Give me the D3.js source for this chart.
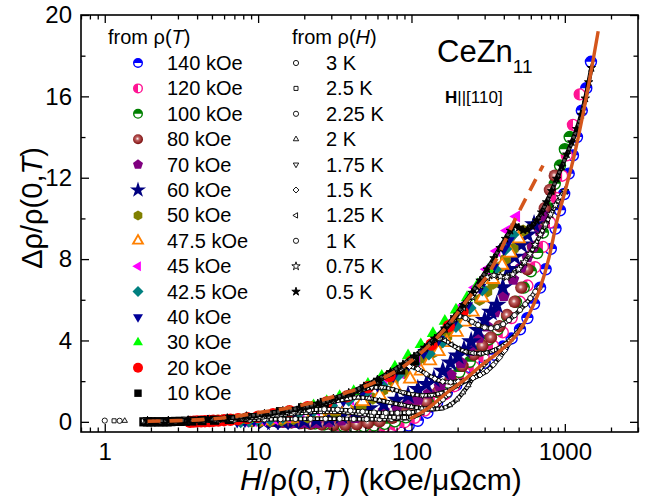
<!DOCTYPE html>
<html>
<head>
<meta charset="utf-8">
<script src="https://cdn.jsdelivr.net/npm/d3@7"></script>
<style>
body { margin: 0; background: #fff; }
text { font-family: "Liberation Sans", Arial, sans-serif; fill: #000; }
</style>
</head>
<body>
<svg id="chart" width="662" height="502"></svg>
<script>
// ---- data: [H/rho0, drho/rho0] ----
var fieldLabels = ["140 kOe", "120 kOe", "100 kOe", "80 kOe", "70 kOe", "60 kOe", "50 kOe",
                   "47.5 kOe", "45 kOe", "42.5 kOe", "40 kOe", "30 kOe", "20 kOe", "10 kOe"];
var tempLabels = ["3 K", "2.5 K", "2.25 K", "2 K", "1.75 K", "1.5 K", "1.25 K", "1 K", "0.75 K", "0.5 K"];

var xTicks = [1, 10, 100, 1000];
var yTicks = [0, 4, 8, 12, 16, 20];
var yMinor = [2, 6, 10, 14, 18];

var rT140 = [[25.5,0],[29,-0.06],[33,-0.13],[37.5,-0.2],[43,-0.27],[49,-0.33],[56,-0.37],[64,-0.38],[73,-0.36],[84,-0.3],[96,-0.18],[110,0.05],[127,0.45],[147,0.95],[170,1.42],[196,1.8],[226,2.2],[260,2.55],[300,2.9],[345,3.3],[395,3.7],[450,4.1],[510,4.55],[570,5.1],[630,5.8],[690,6.6],[750,7.5],[810,8.5],[870,9.5],[930,10.4],[990,11.2],[1060,12.2],[1130,13.1],[1200,14.0],[1290,15.3],[1380,16.4],[1480,17.7]];
var rT120 = [[22,0],[25,-0.05],[28.5,-0.1],[32.5,-0.16],[37,-0.22],[43,-0.27],[50,-0.29],[58,-0.28],[67,-0.24],[78,-0.15],[90,-0.02],[105,0.2],[122,0.55],[142,0.95],[165,1.35],[190,1.75],[220,2.2],[255,2.7],[295,3.2],[340,3.75],[394,4.4],[450,5.1],[510,5.9],[570,6.7],[640,7.6],[720,8.6],[800,9.8],[880,11.0],[960,12.1],[1030,13.1],[1130,14.6],[1250,16.1]];
var rT100 = [[18,0],[20.5,-0.04],[23.5,-0.08],[27,-0.13],[31,-0.18],[36,-0.21],[42,-0.23],[49,-0.22],[57,-0.18],[67,-0.1],[78,0.02],[92,0.22],[108,0.5],[128,0.95],[150,1.45],[175,1.9],[205,2.45],[240,2.95],[280,3.5],[320,4.05],[365,4.55],[420,5.2],[480,5.9],[540,6.6],[600,7.4],[660,8.3],[720,9.3],[790,10.5],[860,11.7],[930,12.6],[1000,13.4],[1075,14.0]];
var rT80 = [[14.5,0],[16.5,-0.03],[19,-0.06],[22,-0.1],[26,-0.13],[31,-0.15],[37,-0.15],[44,-0.12],[52,-0.06],[62,0.02],[75,0.2],[90,0.42],[105,0.65],[125,1.0],[150,1.5],[180,2.1],[215,2.75],[255,3.3],[290,3.75],[330,4.15],[375,4.7],[420,5.25],[470,5.9],[520,6.6],[570,7.5],[620,8.6],[680,9.7],[740,10.5],[800,11.4],[860,12.1]];
var rT70 = [[12.7,0],[14.5,-0.02],[17,-0.04],[20,-0.05],[24,-0.04],[29,0],[35,0.08],[43,0.2],[53,0.35],[66,0.55],[80,0.75],[95,0.92],[110,1.1],[130,1.4],[153,1.75],[180,2.3],[210,2.9],[240,3.5],[275,4.15],[310,4.7],[350,5.4],[400,6.2],[460,7.0],[520,7.6],[570,8.1],[620,8.6],[685,9.4],[745,10.1]];
var rT60 = [[10.9,0],[12.5,0],[14.5,0],[17,0.02],[20,0.05],[24,0.1],[29,0.18],[35,0.3],[43,0.45],[53,0.65],[66,0.85],[80,1.08],[95,1.3],[110,1.6],[125,1.85],[140,2.1],[160,2.5],[180,2.9],[200,3.25],[220,3.55],[245,3.95],[272,4.5],[300,5.0],[330,5.4],[360,5.75],[394,6.6],[430,7.5],[470,8.1],[520,8.7],[570,9.2],[630,9.7]];
var rT50 = [[9.1,0.01],[10.3,0.02],[12,0.04],[14.2,0.08],[17,0.14],[21,0.22],[26,0.32],[32,0.45],[39,0.6],[47,0.8],[56,1.15],[65,1.55],[76,2.0],[90,2.4],[108,2.85],[123,3.1],[138,3.4],[153,3.85],[170,4.2],[188,4.6],[207,4.9],[240,5.45],[278,6.0],[310,6.4],[340,6.8],[376,7.6],[410,8.0],[460,8.5],[535,9.4]];
var rT475 = [[8.6,0.02],[9.8,0.04],[11.3,0.07],[13.5,0.12],[16.5,0.18],[20,0.28],[25,0.4],[31,0.58],[38,0.78],[48,1.0],[62,1.3],[78,1.7],[98,2.1],[115,2.5],[132,3.0],[150,3.45],[170,3.9],[197,4.4],[222,4.9],[250,5.4],[290,6.1],[340,7.0],[390,7.7],[440,8.3],[500,9.0]];
var rT45 = [[8.2,0.02],[9.3,0.04],[10.7,0.08],[12.8,0.14],[15.5,0.24],[19,0.38],[24,0.56],[31,0.82],[40,1.1],[52,1.45],[66,1.85],[85,2.4],[108,3.0],[125,3.6],[150,4.2],[180,4.9],[215,5.7],[260,6.6],[310,7.5],[360,8.4],[420,9.4],[484,10.1]];
var rT425 = [[7.7,0.02],[8.7,0.04],[10,0.08],[12,0.14],[14.5,0.23],[18,0.36],[23,0.55],[30,0.8],[39,1.08],[50,1.4],[64,1.8],[82,2.3],[104,2.85],[130,3.35],[160,3.95],[195,4.7],[240,5.6],[290,6.5],[350,7.5],[410,8.5],[457,9.2]];
var rT40 = [[7.3,0.02],[8.2,0.04],[9.4,0.08],[11,0.14],[13.5,0.24],[17,0.38],[22,0.56],[28,0.78],[36,1.05],[47,1.38],[60,1.78],[76,2.25],[96,2.8],[120,3.4],[150,4.05],[185,4.8],[230,5.7],[280,6.6],[340,7.6],[400,8.5],[430,8.9]];
var rT30 = [[5.4,0.02],[5.8,0.03],[6.3,0.04],[6.9,0.06],[7.6,0.08],[8.5,0.12],[9.6,0.17],[11,0.24],[13,0.33],[15.5,0.46],[19,0.62],[23,0.8],[28,1.0],[34,1.25],[42,1.5],[52,1.85],[64,2.25],[78,2.7],[95,3.25],[115,3.8],[138,4.35],[165,4.95],[195,5.5],[230,6.1],[270,6.75],[320,7.5]];
var rT20 = [[3.6,0],[3.8,0.01],[4.0,0.02],[4.25,0.02],[4.5,0.03],[4.8,0.04],[5.1,0.05],[5.5,0.06],[6.0,0.08],[6.6,0.1],[7.4,0.13],[8.5,0.18],[10,0.25],[12.5,0.37],[16,0.52],[21,0.72],[28,0.95],[38,1.25],[52,1.7],[72,2.25],[100,2.95],[135,3.8],[175,4.7],[215,5.4]];
var rT10 = [[1.8,0],[1.9,0],[2.0,0],[2.1,0],[2.25,0],[2.4,0],[2.55,0],[2.7,0.01],[2.9,0.02],[3.1,0.02],[3.35,0.03],[3.7,0.04],[4.3,0.06],[5.2,0.08],[6.5,0.12],[8.5,0.2],[11,0.3],[14,0.5],[19.5,0.69],[27,0.95],[40,1.3],[60,1.9],[85,2.55],[105,3.0]];

var rH3 = [[1.0,0.06],[1.8,0.05],[2.3,0.05],[2.9,0.05],[3.6,0.06],[4.5,0.07],[5.6,0.08],[7,0.1],[8.8,0.11],[11,0.12],[14,0.13],[17.5,0.14],[22,0.15],[27.5,0.15],[34,0.15],[42,0.14],[51,0.13],[62,0.13],[74,0.14],[86,0.16],[97,0.18]];
var rH25 = [[1.15,0.05],[1.85,0.05],[2.4,0.05],[3.1,0.06],[4,0.07],[5.2,0.09],[6.7,0.13],[8.5,0.18],[10.7,0.24],[13.3,0.32],[16.5,0.4],[20.5,0.46],[25.5,0.5],[31.5,0.5],[38.5,0.47],[46,0.4],[55,0.32],[65,0.26],[77,0.22],[90,0.21],[103,0.27],[117,0.45]];
var rH225 = [[1.25,0.05],[1.9,0.05],[2.5,0.06],[3.3,0.08],[4.4,0.11],[5.9,0.16],[7.8,0.23],[10.2,0.3],[13.3,0.4],[17,0.5],[21.5,0.58],[27,0.62],[33,0.6],[40,0.55],[48,0.5],[57,0.46],[68,0.44],[81,0.44],[96,0.46],[112,0.52],[128,0.64],[145,0.86],[160,1.1],[175,1.35]];
var rH2 = [[1.35,0.05],[1.95,0.05],[2.6,0.06],[3.5,0.08],[4.7,0.12],[6.3,0.18],[8.4,0.27],[11,0.38],[14.5,0.5],[19,0.64],[24.5,0.82],[31,1.0],[38,1.12],[45,1.2],[53,1.15],[62,1.05],[73,0.94],[86,0.84],[100,0.74],[117,0.66],[136,0.62],[157,0.66],[178,0.82],[198,1.1],[217,1.45],[235,1.8],[250,2.15]];
var rH175 = [[1.9,0.05],[2.6,0.06],[3.5,0.08],[4.7,0.12],[6.3,0.18],[8.4,0.27],[11,0.38],[14.5,0.52],[19,0.66],[24.5,0.86],[31,1.1],[38,1.32],[46,1.52],[55,1.68],[64,1.7],[75,1.6],[88,1.45],[102,1.35],[118,1.3],[136,1.32],[156,1.42],[178,1.58],[202,1.8],[228,2.05],[256,2.35],[285,2.65],[310,2.95]];
var rH15 = [[1.9,0.05],[2.6,0.06],[3.5,0.08],[4.7,0.12],[6.3,0.18],[8.4,0.27],[11,0.38],[14.5,0.52],[19,0.66],[24.5,0.86],[31,1.1],[39,1.38],[49,1.68],[60,2.0],[72,2.32],[85,2.6],[97,2.72],[110,2.6],[125,2.35],[142,2.12],[160,1.98],[180,1.95],[202,1.98],[226,2.05],[252,2.15],[280,2.3],[310,2.5],[342,2.8],[375,3.15],[405,3.5],[432,3.85]];
var rH125 = [[1.9,0.05],[2.6,0.06],[3.5,0.08],[4.7,0.12],[6.3,0.18],[8.4,0.27],[11,0.38],[14.5,0.52],[19,0.66],[24.5,0.86],[31,1.1],[39,1.38],[49,1.7],[60,2.02],[73,2.38],[88,2.75],[104,3.15],[120,3.55],[136,3.9],[150,4.1],[165,4.0],[182,3.8],[202,3.6],[225,3.45],[250,3.38],[278,3.36],[308,3.4],[340,3.5],[375,3.65],[412,3.85],[450,4.1],[490,4.4],[530,4.75]];
var rH1 = [[1.9,0.05],[2.6,0.06],[3.5,0.08],[4.7,0.12],[6.3,0.18],[8.4,0.27],[11,0.38],[14.5,0.52],[19,0.66],[24.5,0.86],[31,1.1],[39,1.38],[49,1.7],[60,2.02],[73,2.38],[88,2.75],[104,3.15],[122,3.6],[142,4.05],[163,4.5],[185,4.95],[205,5.2],[225,5.1],[248,4.92],[272,4.76],[300,4.64],[330,4.6],[362,4.66],[396,4.8],[432,5.0],[470,5.24],[510,5.5],[552,5.78],[596,6.08],[642,6.4],[685,6.6]];
var rH075 = [[1.9,0.05],[2.6,0.06],[3.5,0.08],[4.7,0.12],[6.3,0.18],[8.4,0.27],[11,0.38],[14.5,0.52],[19,0.68],[24.5,0.88],[31,1.12],[39,1.4],[49,1.72],[60,2.05],[73,2.42],[88,2.8],[104,3.2],[122,3.62],[142,4.08],[165,4.55],[190,5.08],[218,5.62],[248,6.15],[280,6.7],[312,7.1],[345,7.2],[380,7.15],[418,7.12],[458,7.25],[500,7.5],[545,7.85],[592,8.25],[640,8.7],[692,9.2],[748,9.7],[808,10.2],[870,10.65],[935,11.05],[1000,11.35]];
var rH05 = [[1.9,0.05],[2.6,0.06],[3.5,0.08],[4.7,0.12],[6.3,0.18],[8.4,0.28],[11,0.4],[14.5,0.54],[19,0.7],[24.5,0.9],[31,1.15],[39,1.43],[49,1.75],[60,2.08],[73,2.45],[88,2.83],[104,3.22],[122,3.65],[142,4.1],[165,4.6],[190,5.15],[218,5.75],[248,6.35],[280,6.95],[312,7.5],[345,8.05],[378,8.55],[410,9.0],[442,9.4],[472,9.65],[502,9.55],[535,9.42],[570,9.45],[610,9.62],[655,9.9],[705,10.3],[760,10.8],[820,11.35],[885,11.95],[955,12.55],[1030,13.15],[1110,13.75],[1195,14.4],[1280,15.1],[1360,15.9],[1430,16.7],[1490,17.4]];

var fitSolid = [[98,0.15],[130,0.7],[170,1.43],[220,2.05],[278,2.7],[380,3.5],[488,4.3],[585,5.3],[685,6.5],[790,8.1],[890,9.9],[1000,11.3],[1160,13.2],[1400,16.2],[1650,19.2]];
var fitDashed = [[1.9,0.03],[3,0.06],[4.5,0.12],[7.6,0.3],[9.8,0.44],[16,0.69],[34,1.33],[62,2.06],[102,3.05],[170,4.67],[251,6.34],[300,7.0],[500,10.3],[720,12.6]];

var seriesT = [rT140, rT120, rT100, rT80, rT70, rT60, rT50, rT475, rT45, rT425, rT40, rT30, rT20, rT10];
var seriesH = [rH3, rH25, rH225, rH2, rH175, rH15, rH125, rH1, rH075, rH05];

// ---- styles ----
var stylesT = [
  {shape: "half", half: "top", color: "#0000ff"},
  {shape: "half", half: "left", color: "#ff1493"},
  {shape: "half", half: "top", color: "#008000"},
  {shape: "ball", color: "#800000"},
  {shape: "poly", n: 5, rot: 0, fill: "#800080", k: 1.05},
  {shape: "star", fill: "#000080"},
  {shape: "poly", n: 6, rot: 0, fill: "#808000", k: 1.0},
  {shape: "poly", n: 3, rot: 0, fill: "#fff", stroke: "#ff8000", k: 1.15},
  {shape: "poly", n: 3, rot: -Math.PI / 2, fill: "#ff00ff", k: 1.15},
  {shape: "poly", n: 4, rot: 0, fill: "#008080", k: 1.1},
  {shape: "poly", n: 3, rot: Math.PI, fill: "#000099", k: 1.15},
  {shape: "poly", n: 3, rot: 0, fill: "#00ff00", k: 1.15},
  {shape: "circle", fill: "#ff0000"},
  {shape: "poly", n: 4, rot: Math.PI / 4, fill: "#000", k: 1.05}
];
var stylesH = [
  {shape: "circle", fill: "#fff", stroke: "#000"},
  {shape: "poly", n: 4, rot: Math.PI / 4, fill: "#fff", stroke: "#000", k: 1.1},
  {shape: "circle", fill: "#fff", stroke: "#000"},
  {shape: "poly", n: 3, rot: 0, fill: "#fff", stroke: "#000", k: 1.2},
  {shape: "poly", n: 3, rot: Math.PI, fill: "#fff", stroke: "#000", k: 1.2},
  {shape: "poly", n: 4, rot: 0, fill: "#fff", stroke: "#000", k: 1.15},
  {shape: "poly", n: 3, rot: -Math.PI / 2, fill: "#fff", stroke: "#000", k: 1.2},
  {shape: "circle", fill: "#fff", stroke: "#000"},
  {shape: "star", fill: "#fff", stroke: "#000"},
  {shape: "star", fill: "#000", stroke: "#000"}
];
var fitColor = "#d4561c";

// ---- layout ----
var svg = d3.select("#chart");
var margin = {left: 81, top: 15, right: 638, bottom: 432};

var x = d3.scaleLog().domain([0.7, 3000]).range([margin.left, margin.right]);
var y = d3.scaleLinear().domain([-0.5, 20]).range([margin.bottom, margin.top]);

var defs = svg.append("defs");
defs.append("clipPath").attr("id", "clip").append("rect")
  .attr("x", margin.left).attr("y", margin.top)
  .attr("width", margin.right - margin.left).attr("height", margin.bottom - margin.top);
var grad = defs.append("radialGradient").attr("id", "ball").attr("cx", "45%").attr("cy", "45%").attr("r", "60%");
grad.append("stop").attr("offset", "0%").attr("stop-color", "#ffffff");
grad.append("stop").attr("offset", "30%").attr("stop-color", "#c06060");
grad.append("stop").attr("offset", "100%").attr("stop-color", "#700000");

function polyPath(n, r, rot) {
  var pts = d3.range(n).map(function(i) {
    var a = rot + 2 * Math.PI * i / n;
    return [r * Math.sin(a), -r * Math.cos(a)];
  });
  return "M" + pts.join("L") + "Z";
}

function halfPath(side, r) {
  if (side == "left") return "M0," + (-r) + "A" + r + "," + r + " 0 0 0 0," + r + "Z";
  return "M" + (-r) + ",0A" + r + "," + r + " 0 0 1 " + r + ",0Z";
}

function drawMarker(g, st, r, sw) {
  if (st.shape == "half") {
    g.append("circle").attr("r", r - 0.7).attr("fill", "#fff")
      .attr("stroke", st.color).attr("stroke-width", 1.4);
    g.append("path").attr("d", halfPath(st.half, r - 0.7)).attr("fill", st.color);
  } else if (st.shape == "ball") {
    g.append("circle").attr("r", r).attr("fill", "url(#ball)");
  } else if (st.shape == "circle") {
    g.append("circle").attr("r", r).attr("fill", st.fill)
      .attr("stroke", st.stroke || "none").attr("stroke-width", sw);
  } else if (st.shape == "star") {
    g.append("path").attr("d", d3.symbol(d3.symbolStar, r * r * 3.2)())
      .attr("fill", st.fill).attr("stroke", st.stroke || "none").attr("stroke-width", sw);
  } else {
    g.append("path").attr("d", polyPath(st.n, r * st.k, st.rot))
      .attr("fill", st.fill).attr("stroke", st.stroke || "none")
      .attr("stroke-width", st.stroke ? (st.fill == "#fff" && st.stroke != "#000" ? 1.8 : sw) : 0);
  }
}

var plot = svg.append("g").attr("clip-path", "url(#clip)");

// rho(T) series
seriesT.forEach(function(data, i) {
  plot.append("g").selectAll("g").data(data).join("g")
    .attr("transform", function(d) { return "translate(" + x(d[0]) + "," + y(d[1]) + ")"; })
    .each(function() { drawMarker(d3.select(this), stylesT[i], 6.2, 1); });
});

// rho(H) series: dense chains of small open symbols
var chainLine = d3.line().x(function(d) { return x(d[0]); }).y(function(d) { return y(d[1]); })
  .curve(d3.curveMonotoneX);
seriesH.forEach(function(data, i) {
  var g = plot.append("g");
  var rest = data[0][0] < 1.5 ? data.slice(1) : data;
  g.append("path").attr("d", chainLine(rest)).attr("fill", "none")
    .attr("stroke", "#000").attr("stroke-width", 4.4);
  g.append("path").attr("d", chainLine(rest)).attr("fill", "none")
    .attr("stroke", i == 9 ? "#555" : "#fff").attr("stroke-width", 2.6).attr("stroke-dasharray", "2.6,1.6");
  g.selectAll("g").data(data).join("g")
    .attr("transform", function(d) { return "translate(" + x(d[0]) + "," + y(d[1]) + ")"; })
    .each(function() { drawMarker(d3.select(this), stylesH[i], 2.6, 0.9); });
});

// fit lines
plot.append("path").attr("d", chainLine(fitDashed)).attr("fill", "none")
  .attr("stroke", fitColor).attr("stroke-width", 3.6).attr("stroke-dasharray", "13,9");
plot.append("path").attr("d", chainLine(fitSolid)).attr("fill", "none")
  .attr("stroke", fitColor).attr("stroke-width", 3.4);

// ---- axes ----
var minorX = x.ticks().filter(function(d) { return xTicks.indexOf(d) < 0; });

function styleAxis(g) {
  g.select(".domain").remove();
  g.selectAll(".tick line").attr("stroke", "#000").attr("stroke-width", 1.3);
  g.selectAll(".tick text").attr("font-size", 24).attr("font-family", "Liberation Sans, Arial, sans-serif");
}

svg.append("g").attr("transform", "translate(0," + margin.bottom + ")")
  .call(d3.axisBottom(x).tickValues(xTicks).tickFormat(d3.format("d")).tickSizeInner(-8).tickSizeOuter(0).tickPadding(11))
  .call(styleAxis);
svg.append("g").attr("transform", "translate(0," + margin.bottom + ")")
  .call(d3.axisBottom(x).tickValues(minorX).tickFormat("").tickSizeInner(-4.5).tickSizeOuter(0))
  .call(styleAxis);
svg.append("g").attr("transform", "translate(0," + margin.top + ")")
  .call(d3.axisTop(x).tickValues(xTicks).tickFormat("").tickSizeInner(-8).tickSizeOuter(0))
  .call(styleAxis);
svg.append("g").attr("transform", "translate(0," + margin.top + ")")
  .call(d3.axisTop(x).tickValues(minorX).tickFormat("").tickSizeInner(-4.5).tickSizeOuter(0))
  .call(styleAxis);

svg.append("g").attr("transform", "translate(" + margin.left + ",0)")
  .call(d3.axisLeft(y).tickValues(yTicks).tickSizeInner(-8).tickSizeOuter(0).tickPadding(9))
  .call(styleAxis);
svg.append("g").attr("transform", "translate(" + margin.left + ",0)")
  .call(d3.axisLeft(y).tickValues(yMinor).tickFormat("").tickSizeInner(-4.5).tickSizeOuter(0))
  .call(styleAxis);
svg.append("g").attr("transform", "translate(" + margin.right + ",0)")
  .call(d3.axisRight(y).tickValues(yTicks).tickFormat("").tickSizeInner(-8).tickSizeOuter(0))
  .call(styleAxis);
svg.append("g").attr("transform", "translate(" + margin.right + ",0)")
  .call(d3.axisRight(y).tickValues(yMinor).tickFormat("").tickSizeInner(-4.5).tickSizeOuter(0))
  .call(styleAxis);

svg.append("rect").attr("x", margin.left).attr("y", margin.top)
  .attr("width", margin.right - margin.left).attr("height", margin.bottom - margin.top)
  .attr("fill", "none").attr("stroke", "#000").attr("stroke-width", 1.6);

// axis titles
var xt = svg.append("text").attr("x", 240).attr("y", 490).attr("font-size", 30);
xt.append("tspan").attr("font-style", "italic").text("H");
xt.append("tspan").text("/ρ(0,");
xt.append("tspan").attr("font-style", "italic").text("T");
xt.append("tspan").text(") (kOe/μΩcm)");

var yt = svg.append("text").attr("transform", "translate(42,208) rotate(-90)")
  .attr("text-anchor", "middle").attr("font-size", 29);
yt.append("tspan").text("Δρ/ρ(0,");
yt.append("tspan").attr("font-style", "italic").text("T");
yt.append("tspan").text(")");

// ---- legend ----
var legY0 = 63, legDy = 25.4;
var h1 = svg.append("text").attr("x", 108).attr("y", 44).attr("font-size", 20);
h1.append("tspan").text("from ρ(");
h1.append("tspan").attr("font-style", "italic").text("T");
h1.append("tspan").text(")");
var h2 = svg.append("text").attr("x", 292).attr("y", 44).attr("font-size", 20);
h2.append("tspan").text("from ρ(");
h2.append("tspan").attr("font-style", "italic").text("H");
h2.append("tspan").text(")");

var legT = svg.append("g").selectAll("g").data(fieldLabels).join("g")
  .attr("transform", function(d, i) { return "translate(0," + (legY0 + i * legDy) + ")"; });
legT.append("g").attr("transform", "translate(138,0)")
  .each(function(d, i) { drawMarker(d3.select(this), stylesT[i], 5, 1); });
legT.append("text").attr("x", 167).attr("y", 7).attr("font-size", 20).text(function(d) { return d; });

var legH = svg.append("g").selectAll("g").data(tempLabels).join("g")
  .attr("transform", function(d, i) { return "translate(0," + (legY0 + i * legDy) + ")"; });
legH.append("g").attr("transform", "translate(296,0)")
  .each(function(d, i) { drawMarker(d3.select(this), stylesH[i], 2.6, 0.9); });
legH.append("text").attr("x", 326).attr("y", 7).attr("font-size", 20).text(function(d) { return d; });

// sample label
var ce = svg.append("text").attr("x", 437).attr("y", 62).attr("font-size", 31);
ce.append("tspan").text("CeZn");
ce.append("tspan").attr("font-size", 19).attr("dy", 11).text("11");
var hd = svg.append("text").attr("x", 445).attr("y", 103).attr("font-size", 17);
hd.append("tspan").attr("font-weight", "bold").text("H");
hd.append("tspan").text("||[110]");
</script>
</body>
</html>
